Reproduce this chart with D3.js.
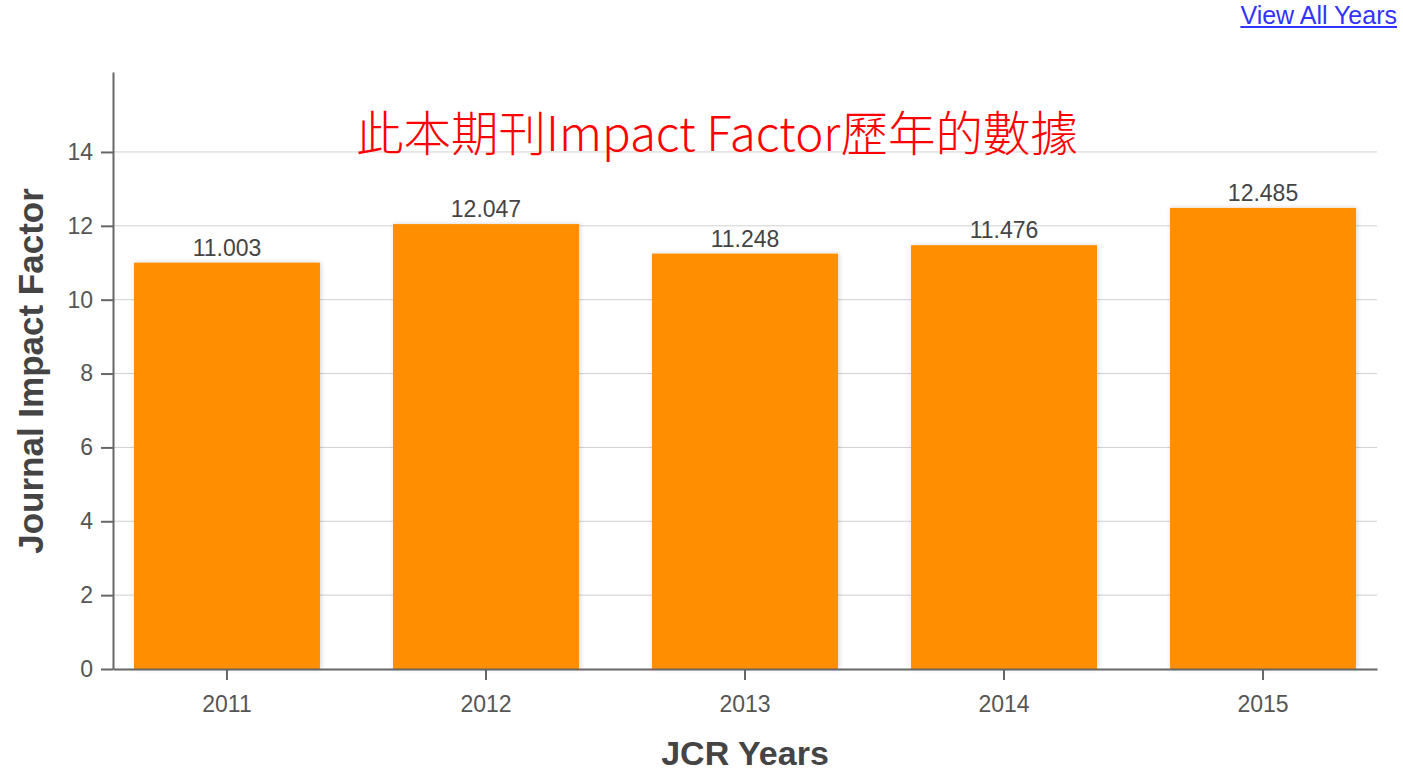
<!DOCTYPE html>
<html>
<head>
<meta charset="utf-8">
<script src="https://cdn.jsdelivr.net/npm/d3@7"></script>
<style>
  html, body { margin: 0; padding: 0; background: #fff; }
  svg { display: block; }
  a.link { position: absolute; right: 6px; top: 1px; font-family: Arial, "Liberation Sans", sans-serif; font-size: 25px; color: #3333ff; text-decoration: underline; }
</style>
</head>
<body>
<a class="link" href="#">View All Years</a>
<svg id="chart" width="1403" height="773"></svg>
<script>
const years = ["2011", "2012", "2013", "2014", "2015"];
const impactFactors = [11.003, 12.047, 11.248, 11.476, 12.485];
const yTicks = [0, 2, 4, 6, 8, 10, 12, 14];
const titleText = "此本期刊Impact Factor歷年的數據";
const xTitle = "JCR Years";
const yTitle = "Journal Impact Factor";

(function () {
const svg = d3.select("#chart");
const mLeft = 113, mRight = 1377, mTop = 72, mBottom = 669;
const font = "Arial, 'Liberation Sans', sans-serif";

const x = d3.scaleBand().domain(years).range([mLeft, mRight]).paddingInner(0.282).paddingOuter(0.081);
const y = d3.scaleLinear().domain([0, 16.165]).range([mBottom, mTop]);

const defs = svg.append("defs");
const f = defs.append("filter").attr("id", "shadow").attr("x", "-10%").attr("y", "-10%").attr("width", "120%").attr("height", "120%");
f.append("feDropShadow").attr("dx", 1).attr("dy", 0).attr("stdDeviation", 2.5).attr("flood-color", "#000").attr("flood-opacity", 0.18);

// gridlines
svg.append("g").selectAll("line").data(yTicks.filter(d => d > 0)).join("line")
  .attr("x1", mLeft).attr("x2", mRight)
  .attr("y1", d => y(d)).attr("y2", d => y(d))
  .attr("stroke", "#d0d0d0").attr("stroke-width", 1);

// bars
svg.append("g").selectAll("rect").data(years).join("rect")
  .attr("x", d => x(d)).attr("width", x.bandwidth())
  .attr("y", (d, i) => y(impactFactors[i]))
  .attr("height", (d, i) => y(0) - y(impactFactors[i]))
  .attr("fill", "#ff8f00")
  .attr("filter", "url(#shadow)");

// value labels
svg.append("g").selectAll("text").data(years).join("text")
  .attr("x", d => x(d) + x.bandwidth() / 2)
  .attr("y", (d, i) => y(impactFactors[i]) - 7)
  .attr("text-anchor", "middle")
  .attr("font-family", font)
  .attr("font-size", 23).attr("fill", "#444")
  .text((d, i) => impactFactors[i].toFixed(3));

// y axis
const yAxis = d3.axisLeft(y).tickValues(yTicks).tickSize(12).tickPadding(8).tickSizeOuter(0);
const gy = svg.append("g").attr("transform", `translate(${mLeft},0)`).call(yAxis);
gy.select(".domain").attr("stroke", "#666").attr("stroke-width", 2);
gy.selectAll(".tick line").attr("stroke", "#666").attr("stroke-width", 2);
gy.selectAll(".tick text").attr("font-family", font).attr("font-size", 23).attr("fill", "#555");

// x axis
const xAxis = d3.axisBottom(x).tickSize(11).tickPadding(16).tickSizeOuter(0);
const gx = svg.append("g").attr("transform", `translate(0,${mBottom})`).call(xAxis);
gx.select(".domain").attr("stroke", "#666").attr("stroke-width", 2);
gx.selectAll(".tick line").attr("stroke", "#666").attr("stroke-width", 2);
gx.selectAll(".tick text").attr("font-family", font).attr("font-size", 23).attr("fill", "#555");

// axis titles
svg.append("text")
  .attr("x", (mLeft + mRight) / 2).attr("y", 765)
  .attr("text-anchor", "middle")
  .attr("font-family", font)
  .attr("font-weight", "bold").attr("font-size", 34).attr("fill", "#444")
  .text(xTitle);

svg.append("text")
  .attr("transform", `translate(43,371) rotate(-90)`)
  .attr("text-anchor", "middle")
  .attr("font-family", font)
  .attr("font-weight", "bold").attr("font-size", 35).attr("fill", "#444")
  .text(yTitle);

// red title
svg.append("text")
  .attr("x", 717).attr("y", 151)
  .attr("text-anchor", "middle")
  .attr("font-family", "'Noto Sans CJK TC', 'Noto Sans CJK JP', sans-serif")
  .attr("font-weight", 300)
  .attr("font-size", 47.5).attr("fill", "#ff0000")
  .text(titleText);
})();
</script>
</body>
</html>
